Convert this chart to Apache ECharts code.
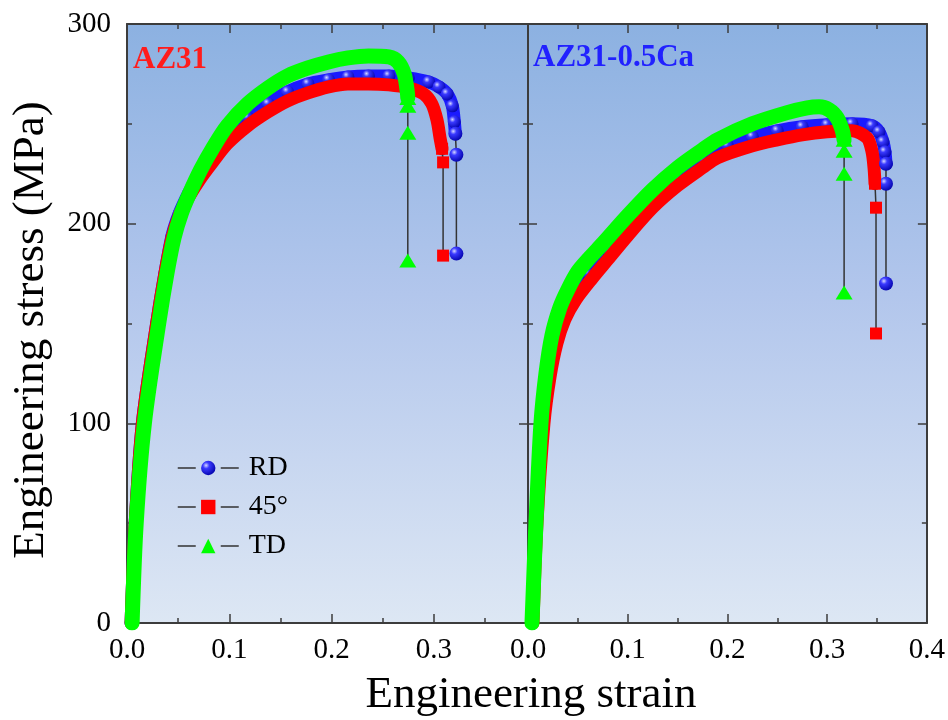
<!DOCTYPE html>
<html><head><meta charset="utf-8">
<script src="https://cdn.jsdelivr.net/npm/echarts@6/dist/echarts.min.js"></script>
<style>html,body{margin:0;padding:0;background:#fff}#c{width:948px;height:720px}</style>
</head><body><div id="c"></div>
<script>
// ---------- data (strain, stress MPa) ----------
const seriesNames = ['RD', '45°', 'TD'];
const panelTitles = ['AZ31', 'AZ31-0.5Ca'];
const xTicks = [0.0, 0.1, 0.2, 0.3, 0.4];
const yTicks = [0, 100, 200, 300];
const leftPanelMaxStrain = 0.392;

// AZ31 (left panel)
const az31RD = [[0.004,0],[0.008,50],[0.015,100],[0.029,150],[0.037,175],[0.044,194],[0.051,205],[0.06,215],[0.071,225],[0.084,234],[0.098,243],[0.118,253],[0.138,260],[0.157,266],[0.177,270],[0.197,272],[0.216,273.5],[0.236,274],[0.256,274],[0.275,273],[0.295,271],[0.305,268.5],[0.313,265],[0.318,259],[0.32,251],[0.321,245]];
const az31RDFracture = [[0.322,234.5],[0.322,185]];
const az31D45 = [[0.004,0],[0.008,50],[0.015,100],[0.029,150],[0.037,175],[0.044,193],[0.051,204],[0.06,213],[0.071,222],[0.084,231],[0.098,240],[0.118,249],[0.138,256],[0.157,261.5],[0.177,265.5],[0.197,268.5],[0.216,270],[0.236,270],[0.256,269.5],[0.275,268],[0.29,265],[0.298,260],[0.303,252],[0.306,243],[0.308,237.5]];
const az31D45Fracture = [[0.309,230.7],[0.309,184]];
const az31TD = [[0.005,0],[0.009,50],[0.017,100],[0.031,150],[0.039,175],[0.046,193],[0.053,205],[0.061,215],[0.072,227],[0.084,238],[0.098,249],[0.118,260],[0.138,268],[0.157,274],[0.177,278],[0.197,281],[0.216,283],[0.236,284],[0.256,283.5],[0.265,281],[0.271,275],[0.274,266],[0.2745,263]];
const az31TDFracture = [[0.2745,259],[0.2745,245.5],[0.2745,181.5]];

// AZ31-0.5Ca (right panel)
const caRD = [[0.004,0],[0.008,50],[0.014,100],[0.02,125],[0.027,143],[0.035,155],[0.045,165],[0.06,175],[0.08,187],[0.1,198],[0.125,211],[0.15,223],[0.175,232],[0.2,239],[0.225,243.5],[0.25,246.5],[0.275,248.5],[0.3,249.5],[0.325,250],[0.345,249],[0.352,246],[0.356,241],[0.358,236],[0.359,230]];
const caRDFracture = [[0.359,220],[0.359,170]];
const caD45 = [[0.005,0],[0.009,50],[0.016,100],[0.022,123],[0.029,140],[0.037,152],[0.048,162],[0.065,173],[0.08,182],[0.1,194],[0.125,208],[0.15,219],[0.175,228],[0.19,233],[0.225,239],[0.25,242],[0.275,244.5],[0.3,246],[0.325,246.5],[0.34,243],[0.345,236],[0.347,228],[0.348,220]];
const caD45Fracture = [[0.349,208],[0.349,145]];
const caTD = [[0.004,0],[0.008,50],[0.013,100],[0.018,125],[0.024,144],[0.032,158],[0.04,167],[0.05,176],[0.062,183],[0.075,190],[0.1,204],[0.125,217],[0.15,228],[0.175,237],[0.19,242],[0.225,250],[0.259,255.5],[0.28,258],[0.292,258.5],[0.302,257],[0.31,253],[0.315,247],[0.317,242]];
const caTDFracture = [[0.317,236.5],[0.317,225],[0.317,165.5]];

// ---------- styles ----------
const FONT = '"Liberation Serif", "Times New Roman", serif';
const sphere = {type:'radial', x:0.35, y:0.32, r:0.75, colorStops:[
  {offset:0, color:'#d6d8ff'}, {offset:0.3, color:'#3a3aff'}, {offset:1, color:'#0000a8'}]};
const bgGrad = {type:'linear', x:0, y:0, x2:0, y2:1, colorStops:[
  {offset:0, color:'#8cb1e1'}, {offset:0.45, color:'#b2c6ec'}, {offset:1, color:'#dde7f4'}]};
const AX = '#3c3c3c';

function band(name, data, color, idx, withSymbol, z, width) {
  return {
    name: name, type: 'line', xAxisIndex: idx * 2, yAxisIndex: idx * 2, z: z,
    data: data, smooth: 0.3, silent: true,
    showSymbol: !!withSymbol, showAllSymbol: true,
    symbol: 'circle', symbolSize: 13,
    itemStyle: {color: withSymbol ? sphere : color},
    lineStyle: {color: color, width: width, cap: 'round', join: 'round'},
    emphasis: {disabled: true}
  };
}
function drop(name, bandData, frac, symbol, size, color, idx) {
  return {
    name: name, type: 'line', xAxisIndex: idx * 2, yAxisIndex: idx * 2, z: 6,
    data: [bandData[bandData.length - 1]].concat(frac), silent: true,
    symbol: symbol, symbolSize: size, showAllSymbol: true,
    itemStyle: {color: color},
    lineStyle: {color: '#333', width: 1.5},
    emphasis: {disabled: true}
  };
}

const xAxisBase = (idx, pos) => ({
  type: 'value', gridIndex: idx, position: pos,
  min: xTicks[0], max: idx === 0 ? leftPanelMaxStrain : xTicks[xTicks.length - 1],
  interval: xTicks[1] - xTicks[0],
  axisLine: {show: true, onZero: false, lineStyle: {color: AX, width: 2}},
  axisTick: {show: true, inside: true, length: 9, lineStyle: {color: AX, width: 1.5}},
  minorTick: {show: true, splitNumber: 2, length: 5, lineStyle: {color: AX, width: 1.5}},
  splitLine: {show: false},
  axisLabel: pos === 'bottom' ? {
    show: true, margin: 13, fontFamily: FONT, fontSize: 29, color: '#000',
    showMaxLabel: idx !== 0,
    formatter: v => (idx === 0 && v > 0.35) ? '' : v.toFixed(1)
  } : {show: false}
});
const yAxisBase = (idx, pos) => ({
  type: 'value', gridIndex: idx, position: pos,
  min: yTicks[0], max: yTicks[yTicks.length - 1], interval: yTicks[1] - yTicks[0],
  axisLine: {show: true, onZero: false, lineStyle: {color: AX, width: 2}},
  axisTick: {show: true, inside: true, length: 9, lineStyle: {color: AX, width: 1.5}},
  minorTick: {show: true, splitNumber: 2, length: 5, lineStyle: {color: AX, width: 1.5}},
  splitLine: {show: false},
  axisLabel: (idx === 0 && pos === 'left') ? {
    show: true, margin: 16, fontFamily: FONT, fontSize: 29, color: '#000'
  } : {show: false}
});

const option = {
  animation: false,
  backgroundColor: '#fff',
  grid: [
    {left: 127, top: 24, width: 401, height: 599, show: true, backgroundColor: bgGrad, borderWidth: 0},
    {left: 528, top: 24, width: 400, height: 599, show: true, backgroundColor: bgGrad, borderWidth: 0}
  ],
  xAxis: [xAxisBase(0, 'bottom'), xAxisBase(0, 'top'), xAxisBase(1, 'bottom'), xAxisBase(1, 'top')],
  yAxis: [yAxisBase(0, 'left'), yAxisBase(0, 'right'), yAxisBase(1, 'left'), yAxisBase(1, 'right')],
  legend: {
    data: seriesNames, orient: 'vertical', left: 172, top: 449,
    itemWidth: 61, itemHeight: 18, itemGap: 11,
    lineStyle: {type: [18, 25], width: 1.5, color: '#333'},
    textStyle: {fontFamily: FONT, fontSize: 28, color: '#000', padding: [0, 0, 0, 5]},
    selectedMode: false
  },
  graphic: [
    {type: 'text', left: 133, top: 44, silent: true,
     style: {text: panelTitles[0], font: 'bold 31px ' + FONT, fill: '#ff1c1c'}},
    {type: 'text', left: 533, top: 42, silent: true,
     style: {text: panelTitles[1], font: 'bold 31px ' + FONT, fill: '#2121ff'}},
    {type: 'text', x: 531, y: 695, silent: true,
     style: {text: 'Engineering strain', font: '45px ' + FONT, fill: '#000', align: 'center', verticalAlign: 'middle'}},
    {type: 'text', x: 31, y: 330, rotation: Math.PI / 2, silent: true,
     style: {text: 'Engineering stress (MPa)', font: '45px ' + FONT, fill: '#000', align: 'center', verticalAlign: 'middle'}}
  ],
  series: [
    band('RD-band', az31RD, '#1a1aff', 0, true, 2, 13),
    band('45-band', az31D45, '#ff0000', 0, false, 3, 13),
    band('TD-band', az31TD, '#00ff00', 0, false, 4, 15),
    band('RD-band', caRD, '#1a1aff', 1, true, 2, 13),
    band('45-band', caD45, '#ff0000', 1, false, 3, 13),
    band('TD-band', caTD, '#00ff00', 1, false, 4, 15),
    drop(seriesNames[0], az31RD, az31RDFracture, 'circle', 14, sphere, 0),
    drop(seriesNames[1], az31D45, az31D45Fracture, 'rect', 12, '#ff0000', 0),
    drop(seriesNames[2], az31TD, az31TDFracture, 'triangle', [17, 14], '#00ff00', 0),
    drop(seriesNames[0], caRD, caRDFracture, 'circle', 14, sphere, 1),
    drop(seriesNames[1], caD45, caD45Fracture, 'rect', 12, '#ff0000', 1),
    drop(seriesNames[2], caTD, caTDFracture, 'triangle', [17, 14], '#00ff00', 1)
  ]
};
const chart = echarts.init(document.getElementById('c'), null, {renderer: 'canvas'});
chart.setOption(option);
</script></body></html>
